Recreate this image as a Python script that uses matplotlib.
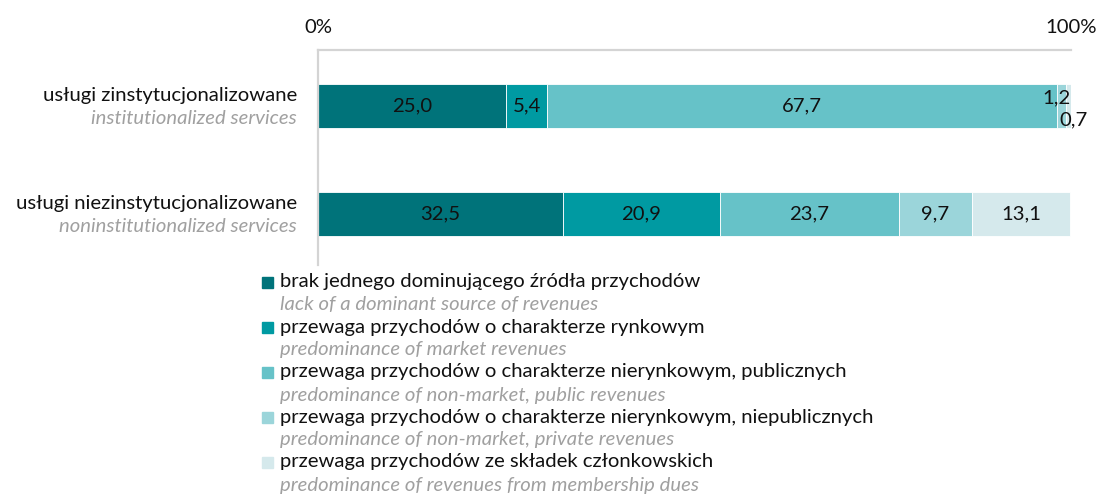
import matplotlib
matplotlib.use('Agg')
import matplotlib.pyplot as plt
from matplotlib.patches import Rectangle

# Data
categories_pl = ['usługi zinstytucjonalizowane', 'usługi niezinstytucjonalizowane']
categories_en = ['institutionalized services', 'noninstitutionalized services']

series_pl = [
    'brak jednego dominującego źródła przychodów',
    'przewaga przychodów o charakterze rynkowym',
    'przewaga przychodów o charakterze nierynkowym, publicznych',
    'przewaga przychodów o charakterze nierynkowym, niepublicznych',
    'przewaga przychodów ze składek członkowskich',
]
series_en = [
    'lack of a dominant source of revenues',
    'predominance of market revenues',
    'predominance of non-market, public revenues',
    'predominance of non-market, private revenues',
    'predominance of revenues from membership dues',
]

values = [
    [25.0, 5.4, 67.7, 1.2, 0.7],
    [32.5, 20.9, 23.7, 9.7, 13.1],
]

Colors = ['#00737a', '#009aa2', '#66c2c8', '#9bd5da', '#d5e9ec']
GridColor = '#d4d4d4'
GrayText = '#a0a0a0'
TextColor = '#111111'

FontFamily = ['Lato', 'DejaVu Sans']
FontSize = 14.6

plt.rcParams['font.family'] = FontFamily

W, H = 1099, 497
fig = plt.figure(figsize=(W / 100, H / 100), dpi=100)

# axes: x 318..1071 px, y 50..265 px
ax = fig.add_axes([318 / W, 1 - 265 / H, (1071 - 318) / W, (265 - 50) / H])

bar_h = 0.41
for i, row in enumerate(values):
    left = 0
    for j, v in enumerate(row):
        ax.barh(i, v, left=left, height=bar_h, color=Colors[j], edgecolor='white', linewidth=0.6)
        label = '{:.1f}'.format(v).replace('.', ',')
        if v >= 3:
            ax.text(left + v / 2, i, label, ha='center', va='center', fontsize=FontSize, color=TextColor)
        left += v

# small values in the first row, stacked at the bar end
row = values[0]
ax.text(100, 0 - 0.08, '{:.1f}'.format(row[3]).replace('.', ','), ha='right', va='center',
        fontsize=FontSize, color=TextColor, clip_on=False)
ax.text(102.2, 0 + 0.13, '{:.1f}'.format(row[4]).replace('.', ','), ha='right', va='center',
        fontsize=FontSize, color=TextColor, clip_on=False)

ax.set_xlim(0, 100)
ax.set_ylim(1.472, -0.519)

for s in ['right', 'bottom']:
    ax.spines[s].set_visible(False)
for s in ['top', 'left']:
    ax.spines[s].set_color(GridColor)
    ax.spines[s].set_linewidth(1.6)

ax.xaxis.tick_top()
ax.set_xticks([0, 100])
ax.set_xticklabels(['0%', '100%'], fontsize=FontSize, color=TextColor)
ax.tick_params(axis='x', length=0, pad=10)
ax.set_yticks([])

# category labels
for i in range(len(categories_pl)):
    ax.text(-2.8, i - 0.1, categories_pl[i], ha='right', va='center', fontsize=FontSize,
            color=TextColor, clip_on=False)
    ax.text(-2.8, i + 0.115, categories_en[i], ha='right', va='center', fontsize=FontSize,
            color=GrayText, style='italic', clip_on=False)

# legend
lx_box = 262 / W
lx_text = 280 / W
y0 = 282
step = 45
for j in range(len(series_pl)):
    yp = y0 + j * step
    fig.patches.append(Rectangle((lx_box, 1 - (yp + 6) / H), 11 / W, 11 / H,
                                 transform=fig.transFigure, color=Colors[j]))
    fig.text(lx_text, 1 - yp / H, series_pl[j], ha='left', va='center', fontsize=FontSize, color=TextColor)
    fig.text(lx_text, 1 - (yp + 23) / H, series_en[j], ha='left', va='center', fontsize=FontSize,
             color=GrayText, style='italic')

plt.savefig('out.png', dpi=100)
